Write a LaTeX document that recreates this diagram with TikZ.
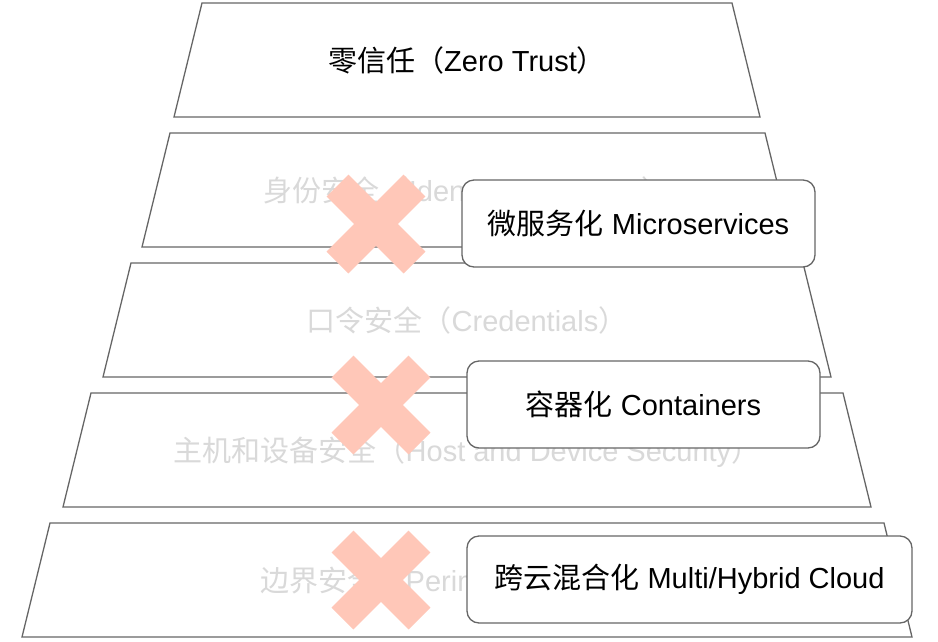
\documentclass[tikz,border=0pt]{standalone}
\usepackage{fontspec}
\setmainfont{Liberation Sans}
\newfontfamily\cjk{Noto Sans CJK SC}
\definecolor{edgegray}{HTML}{666666}
\definecolor{fadegray}{HTML}{D9D9D9}
\definecolor{crosspink}{HTML}{FFC7B8}
\tikzset{
  layer/.style={draw=edgegray,line width=1.3pt,fill=white},
  layertext/.style={fadegray,anchor=base,inner sep=0pt,font=\fontsize{29}{35}\selectfont},
  tagbox/.style={draw=edgegray,line width=1.3pt,fill=white,rounded corners=12pt,
    minimum height=87pt,inner sep=0pt,font=\fontsize{29}{35}\selectfont},
  crossbar/.style={crosspink,line width=31pt,line cap=butt}
}

\begin{document}
\begin{tikzpicture}[x=1pt,y=-1pt]
  \useasboundingbox (0,0) rectangle (938,641);
  % Layers
  \draw[layer] (202,3) -- (732,3) -- (760,117) -- (174,117) -- cycle;
  \node[layertext,black] (zero) at (467,71) {{\cjk 零信任（}Zero Trust{\cjk ）}};
  \draw[layer] (170,133) -- (765,133) -- (793,247) -- (142,247) -- cycle;
  \node[layertext] (identity) at (467,201) {{\cjk 身份安全（}Identity Protection{\cjk ）}};
  \draw[layer] (131,263) -- (803,263) -- (831,377) -- (103,377) -- cycle;
  \node[layertext] (credentials) at (467,331) {{\cjk 口令安全（}Credentials{\cjk ）}};
  \draw[layer] (91,393) -- (843,393) -- (871,507) -- (63,507) -- cycle;
  \node[layertext] (host) at (467,461) {{\cjk 主机和设备安全（}Host and Device Security{\cjk ）}};
  \draw[layer] (50,523) -- (884,523) -- (912,637) -- (22,637) -- cycle;
  \node[layertext] (perimeter) at (467,591) {{\cjk 边界安全（}Perimeter Security{\cjk ）}};
  % Crosses
  \begin{scope}[shift={(376,224)}]
    \draw[crossbar] (-38.5,-38.5) -- (38.5,38.5);
    \draw[crossbar] (-38.5,38.5) -- (38.5,-38.5);
  \end{scope}
  \begin{scope}[shift={(381,405)}]
    \draw[crossbar] (-38.5,-38.5) -- (38.5,38.5);
    \draw[crossbar] (-38.5,38.5) -- (38.5,-38.5);
  \end{scope}
  \begin{scope}[shift={(381,580)}]
    \draw[crossbar] (-38.5,-38.5) -- (38.5,38.5);
    \draw[crossbar] (-38.5,38.5) -- (38.5,-38.5);
  \end{scope}
  % Tags
  \node[tagbox,minimum width=353pt] (micro) at (638.5,223.5) {{\cjk 微服务化} Microservices};
  \node[tagbox,minimum width=353pt] (containers) at (643.5,404.5) {{\cjk 容器化} Containers};
  \node[tagbox,minimum width=445pt] (hybrid) at (689.5,579.5) {{\cjk 跨云混合化} Multi/Hybrid Cloud};
\end{tikzpicture}
\end{document}
